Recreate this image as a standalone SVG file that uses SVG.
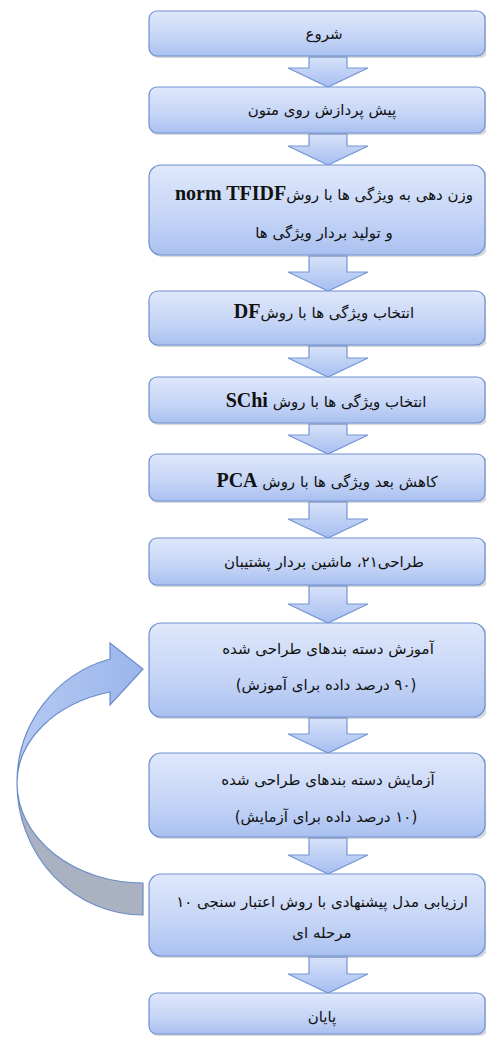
<svg xmlns="http://www.w3.org/2000/svg" width="486" height="1037" viewBox="0 0 486 1037">
<defs>
<linearGradient id="gBox" x1="0" y1="0" x2="0" y2="1">
<stop offset="0" stop-color="#dfe8fb"/>
<stop offset="0.6" stop-color="#c4d4f6"/>
<stop offset="1" stop-color="#a9c0f0"/>
</linearGradient>
<linearGradient id="gArr" x1="0" y1="0" x2="0" y2="1">
<stop offset="0" stop-color="#d6e2fa"/>
<stop offset="1" stop-color="#a7bef0"/>
</linearGradient>
<linearGradient id="gCurve" x1="0" y1="0" x2="1" y2="0">
<stop offset="0" stop-color="#b5c9f2"/>
<stop offset="1" stop-color="#9bb6ec"/>
</linearGradient>
</defs>
<style>
.box{fill:url(#gBox);stroke:#6f8fcf;stroke-width:1.2}
.sh{fill:#8a8f99;opacity:0.35}
.arr{fill:url(#gArr);stroke:#7496d4;stroke-width:1.2;stroke-linejoin:miter}
.t{font-family:"DejaVu Sans",sans-serif;font-size:15px;fill:#111;text-anchor:middle;direction:rtl}
.l{font-family:"Liberation Serif",serif;font-weight:bold;font-size:20px}
</style>
<g id="connectors">
<path class="arr" d="M309,57H347V68H368L328,87L288,68H309Z"/>
<path class="arr" d="M309,134H347V146H368L328,165L288,146H309Z"/>
<path class="arr" d="M309,256H347V272H368L328,291L288,272H309Z"/>
<path class="arr" d="M309,346H347V358H368L328,377L288,358H309Z"/>
<path class="arr" d="M309,424H347V435H368L328,454L288,435H309Z"/>
<path class="arr" d="M309,502H347V519H368L328,538L288,519H309Z"/>
<path class="arr" d="M309,586H347V604H368L328,623L288,604H309Z"/>
<path class="arr" d="M309,718H347V734H368L328,753L288,734H309Z"/>
<path class="arr" d="M309,838H347V855H368L328,874L288,855H309Z"/>
<path class="arr" d="M309,957H347V974H368L328,993L288,974H309Z"/>
<g id="loop">
<path d="M17,783A126,132 0 0 0 143,915L143,883A126,100 0 0 1 17,783Z" fill="#aab1c1" stroke="#6a8cc9" stroke-width="1.2"/>
<path d="M17,783A126,128 0 0 1 110,659L110,643L143,669L110,705L110,692A126,94 0 0 0 17,783Z" fill="url(#gCurve)" stroke="#6a8cc9" stroke-width="1.2"/>
</g>
</g>
<g id="n1"><rect class="sh" x="150" y="13" width="338" height="45" rx="8"/><rect class="box" x="149" y="11" width="336" height="45" rx="8"/><text class="t" x="324" y="39">شروع</text></g>
<g id="n2"><rect class="sh" x="150" y="89" width="338" height="46" rx="8"/><rect class="box" x="149" y="87" width="336" height="46" rx="8"/><text class="t" x="322" y="115">پیش پردازش روی متون</text></g>
<g id="n3"><rect class="sh" x="150" y="167" width="338" height="90" rx="12"/><rect class="box" x="149" y="165" width="336" height="90" rx="12"/><text class="t" x="324" y="200">وزن دهی به ویژگی ها با روش<tspan class="l">norm TFIDF</tspan></text><text class="t" x="324" y="238">و تولید بردار ویژگی ها</text></g>
<g id="n4"><rect class="sh" x="150" y="293" width="338" height="54" rx="9"/><rect class="box" x="149" y="291" width="336" height="54" rx="9"/><text class="t" x="324" y="318">انتخاب ویژگی ها با روش<tspan class="l">DF</tspan></text></g>
<g id="n5"><rect class="sh" x="150" y="379" width="338" height="46" rx="8"/><rect class="box" x="149" y="377" width="336" height="46" rx="8"/><text class="t" x="326" y="407">انتخاب ویژگی ها با روش <tspan class="l">SChi</tspan></text></g>
<g id="n6"><rect class="sh" x="150" y="456" width="338" height="47" rx="8"/><rect class="box" x="149" y="454" width="336" height="47" rx="8"/><text class="t" x="327" y="487">کاهش بعد ویژگی ها با روش <tspan class="l">PCA</tspan></text></g>
<g id="n7"><rect class="sh" x="150" y="540" width="338" height="47" rx="8"/><rect class="box" x="149" y="538" width="336" height="47" rx="8"/><text class="t" x="324" y="567">طراحی۲۱، ماشین بردار پشتیبان</text></g>
<g id="n8"><rect class="sh" x="150" y="625" width="338" height="94" rx="12"/><rect class="box" x="149" y="623" width="336" height="94" rx="12"/><text class="t" x="328" y="654">آموزش دسته بندهای طراحی شده</text><text class="t" x="326" y="690">(۹۰ درصد داده برای آموزش)</text></g>
<g id="n9"><rect class="sh" x="150" y="755" width="338" height="84" rx="12"/><rect class="box" x="149" y="753" width="336" height="84" rx="12"/><text class="t" x="328" y="785">آزمایش دسته بندهای طراحی شده</text><text class="t" x="326" y="822">(۱۰ درصد داده برای آزمایش)</text></g>
<g id="n10"><rect class="sh" x="150" y="876" width="338" height="82" rx="12"/><rect class="box" x="149" y="874" width="336" height="82" rx="12"/><text class="t" x="322" y="907">ارزیابی مدل پیشنهادی با روش اعتبار سنجی ۱۰</text><text class="t" x="322" y="938">مرحله ای</text></g>
<g id="n11"><rect class="sh" x="150" y="995" width="338" height="41" rx="8"/><rect class="box" x="149" y="993" width="336" height="41" rx="8"/><text class="t" x="322" y="1022">پایان</text></g>
</svg>
